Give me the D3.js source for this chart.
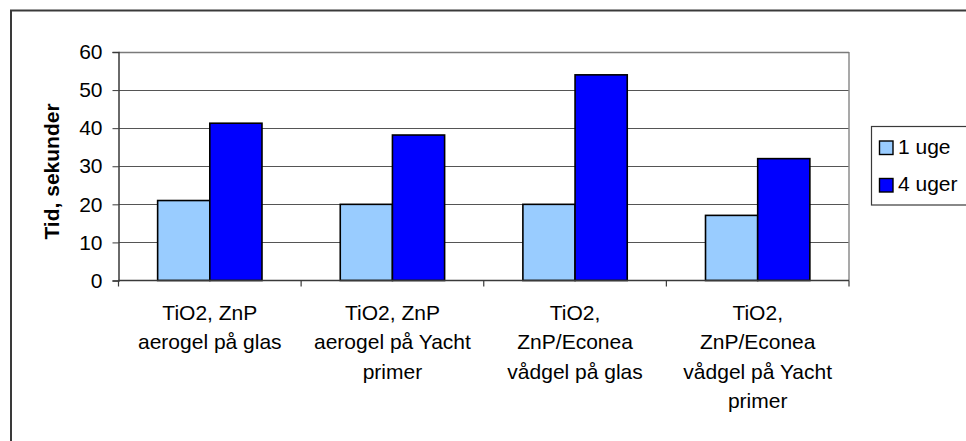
<!DOCTYPE html>
<html>
<head>
<meta charset="utf-8">
<script src="https://cdn.jsdelivr.net/npm/d3@7"></script>
<style>
  html, body { margin: 0; padding: 0; background: #fff; }
  svg { display: block; }
  text { font-family: "Liberation Sans", Arial, sans-serif; fill: #000; }
</style>
</head>
<body>
<svg id="chart" width="966" height="441"></svg>
<script>
// Category labels, already broken into the lines they wrap to
const categories = [
  ["TiO2, ZnP", "aerogel på glas"],
  ["TiO2, ZnP", "aerogel på Yacht", "primer"],
  ["TiO2,", "ZnP/Econea", "vådgel på glas"],
  ["TiO2,", "ZnP/Econea", "vådgel på Yacht", "primer"]
];
const seriesNames = ["1 uge", "4 uger"];
const week1 = [21, 20, 20, 17.1];
const week4 = [41.3, 38.2, 54, 32];
const yTicks = [0, 10, 20, 30, 40, 50, 60];
const yTitle = "Tid, sekunder";
const colors = ["#99CCFF", "#0000FF"];

const series = [week1, week4];
const svg = d3.select("#chart");

// Chart frame
svg.append("rect")
  .attr("x", 11).attr("y", 10.5)
  .attr("width", 1000).attr("height", 500)
  .attr("fill", "#fff").attr("stroke", "#3a3a3a").attr("stroke-width", 2);

const plot = { left: 118.5, right: 849, top: 52, bottom: 280.5 };

const x = d3.scaleBand()
  .domain(d3.range(categories.length))
  .range([plot.left, plot.right])
  .paddingInner(0).paddingOuter(0);

// bars take 2 widths, the gap 1.5 widths (gap width 150%)
const barW = x.bandwidth() / 3.5;
const xInner = d3.scaleBand()
  .domain(d3.range(series.length))
  .range([0.75 * barW, 2.75 * barW])
  .padding(0);

const y = d3.scaleLinear().domain([0, 60]).range([plot.bottom, plot.top]);

// Gridlines
svg.append("g")
  .selectAll("line")
  .data(yTicks.filter(t => t > 0))
  .join("line")
  .attr("x1", plot.left).attr("x2", plot.right)
  .attr("y1", d => Math.round(y(d)) + 0.5).attr("y2", d => Math.round(y(d)) + 0.5)
  .attr("stroke", "#555").attr("stroke-width", 1);

// Plot area right edge
svg.append("line")
  .attr("x1", plot.right).attr("x2", plot.right)
  .attr("y1", plot.top).attr("y2", plot.bottom)
  .attr("stroke", "#8c8c8c").attr("stroke-width", 1.5);
svg.append("line")
  .attr("x1", plot.left).attr("x2", plot.right)
  .attr("y1", plot.top + 0.5).attr("y2", plot.top + 0.5)
  .attr("stroke", "#7a7a7a").attr("stroke-width", 1.5);

// Bars
const groups = svg.append("g")
  .selectAll("g")
  .data(categories)
  .join("g")
  .attr("transform", (d, i) => `translate(${x(i)},0)`);

groups.selectAll("rect")
  .data((d, i) => series.map((s, k) => ({ k, v: s[i] })))
  .join("rect")
  .attr("x", d => xInner(d.k))
  .attr("width", xInner.bandwidth())
  .attr("y", d => y(d.v))
  .attr("height", d => y(0) - y(d.v))
  .attr("fill", d => colors[d.k])
  .attr("stroke", "#000").attr("stroke-width", 1.6);

// Y axis
const yAxis = d3.axisLeft(y).tickValues(yTicks).tickSize(6).tickPadding(10);
const gy = svg.append("g").attr("transform", `translate(${plot.left},0)`).call(yAxis);
gy.select(".domain").attr("stroke", "#3a3a3a").attr("stroke-width", 1.5);
gy.selectAll(".tick line").attr("stroke", "#3a3a3a");
gy.selectAll(".tick text")
  .attr("font-size", 21)
  .attr("font-family", "'Liberation Sans', Arial, sans-serif")
  .attr("fill", "#000");

// X axis: line with ticks between categories
svg.append("line")
  .attr("x1", plot.left).attr("x2", plot.right)
  .attr("y1", plot.bottom).attr("y2", plot.bottom)
  .attr("stroke", "#3a3a3a").attr("stroke-width", 1.5);
const boundaries = d3.range(categories.length + 1).map(i =>
  i < categories.length ? x(i) : x(categories.length - 1) + x.bandwidth());
svg.append("g")
  .selectAll("line")
  .data(boundaries)
  .join("line")
  .attr("x1", d => d).attr("x2", d => d)
  .attr("y1", plot.bottom).attr("y2", plot.bottom + 6)
  .attr("stroke", "#3a3a3a").attr("stroke-width", 1.2);

// Category labels
const lineGap = 29.5;
const labels = svg.append("g")
  .selectAll("text")
  .data(categories)
  .join("text")
  .attr("text-anchor", "middle")
  .attr("font-size", 21)
  .attr("transform", (d, i) => `translate(${x(i) + x.bandwidth() / 2},319.5)`);
labels.selectAll("tspan")
  .data(d => d)
  .join("tspan")
  .attr("x", 0)
  .attr("y", (d, j) => j * lineGap)
  .text(d => d);

// Y axis title
svg.append("text")
  .attr("transform", "translate(58.5,171.5) rotate(-90)")
  .attr("text-anchor", "middle")
  .attr("font-size", 21)
  .attr("font-weight", "bold")
  .text(yTitle);

// Legend
const legend = svg.append("g");
legend.append("rect")
  .attr("x", 871.5).attr("y", 126.5)
  .attr("width", 130).attr("height", 78.5)
  .attr("fill", "#fff").attr("stroke", "#3a3a3a").attr("stroke-width", 1.2);
const legendRows = [153.5, 191];
const items = legend.selectAll("g.item")
  .data(seriesNames)
  .join("g")
  .attr("class", "item");
items.append("rect")
  .attr("x", 879.5)
  .attr("y", (d, i) => legendRows[i] - 12.5)
  .attr("width", 13.5).attr("height", 13.5)
  .attr("fill", (d, i) => colors[i])
  .attr("stroke", "#000").attr("stroke-width", 1.4);
items.append("text")
  .attr("x", 898)
  .attr("y", (d, i) => legendRows[i])
  .attr("font-size", 21)
  .text(d => d);
</script>
</body>
</html>
